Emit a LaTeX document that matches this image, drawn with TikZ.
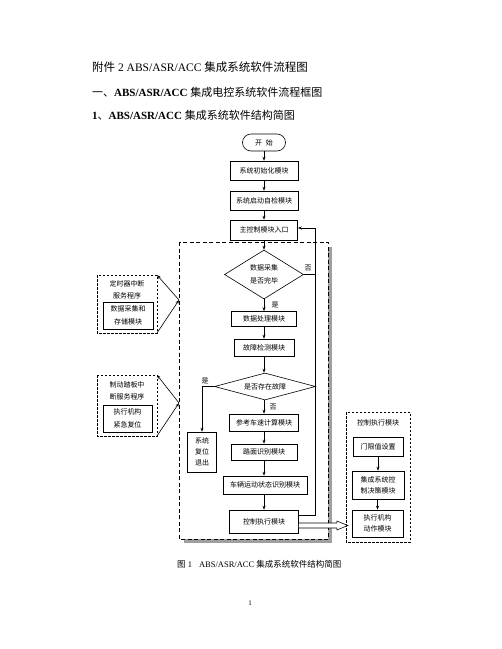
\documentclass[tikz,border=0pt]{standalone}
\usepackage{fontspec}
\setmainfont{Liberation Serif}
\newfontfamily\cjk{Noto Sans CJK SC}
\usetikzlibrary{shapes.geometric,arrows.meta,calc}
\begin{document}
\begin{tikzpicture}[x=1pt,y=-1pt,
  box/.style={draw,line width=0.6pt,inner sep=0pt,font=\cjk\fontsize{7}{11}\selectfont,align=center},
  arr/.style={-{Stealth[length=4pt,width=3pt]},line width=0.6pt},
  ln/.style={line width=0.6pt},
  lab/.style={font=\cjk\fontsize{7}{8}\selectfont,inner sep=0pt},
  dbox/.style={draw,line width=0.7pt,dash pattern=on 2.5pt off 1.5pt},
  bigdbox/.style={draw,line width=0.7pt,dash pattern=on 4pt off 2.5pt},
  dia/.style={draw,diamond,line width=0.6pt,inner sep=0pt,font=\cjk\fontsize{7}{13}\selectfont,align=center}]
\useasboundingbox[fill=white] (0,0) rectangle (502,649);

% headings
\node[anchor=west,inner sep=0pt,font=\fontsize{11.5}{14}\selectfont] (h1) at (92,67) {{\cjk 附件} 2 ABS/ASR/ACC {\cjk 集成系统软件流程图}};
\node[anchor=west,inner sep=0pt,font=\fontsize{11}{14}\selectfont] (h2) at (92,92) {{\cjk 一、}\textbf{ABS/ASR/ACC} {\cjk 集成电控系统软件流程框图}};
\node[anchor=west,inner sep=0pt,font=\fontsize{11}{14}\selectfont] (h3) at (92,115) {\textbf{1}{\cjk 、}\textbf{ABS/ASR/ACC} {\cjk 集成系统软件结构简图}};

% big dashed box with shadow
\fill[gray!75] (184,247) rectangle (332,543);
\draw[bigdbox,fill=white] (179,242) rectangle (328,539);

% main column
\node[box,rounded corners=8.5pt,minimum width=43pt,minimum height=17pt] (start) at (264,142.5) {开\hspace{4pt}始};
\node[box,minimum width=68pt,minimum height=19pt] (init) at (264,170.5) {系统初始化模块};
\node[box,minimum width=68pt,minimum height=19pt] (check) at (264,200.5) {系统启动自检模块};
\node[box,minimum width=67pt,minimum height=20pt] (entry) at (264,230) {主控制模块入口};
\node[dia,aspect=1.61,minimum width=79pt,minimum height=49pt] (d1) at (264,274.5) {数据采集\\是否完毕};
\node[box,minimum width=65pt,minimum height=15pt] (proc) at (264,319) {数据处理模块};
\node[box,minimum width=60pt,minimum height=17pt] (fault) at (264,347.5) {故障检测模块};
\node[dia,aspect=3.74,minimum width=101pt,minimum height=27pt] (d2) at (265,386.5) {是否存在故障};
\node[box,minimum width=69pt,minimum height=17pt] (ref) at (264,422.5) {参考车速计算模块};
\node[box,minimum width=66pt,minimum height=16pt] (road) at (264,452) {路面识别模块};
\node[box,minimum width=84pt,minimum height=18pt] (veh) at (265,485) {车辆运动状态识别模块};
\node[box,minimum width=69pt,minimum height=23pt] (ctrl) at (264,521.5) {控制执行模块};
\node[box,minimum width=29pt,minimum height=40pt] (reset) at (202,452) {系统\\复位\\退出};

\draw[arr] (start) -- (init);
\draw[arr] (init) -- (check);
\draw[arr] (check) -- (entry);
\draw[arr] (entry) -- (d1.north);
\draw[arr] (d1.south) -- (proc);
\draw[arr] (proc) -- (fault);
\draw[arr] (fault) -- (d2.north -| fault.south);
\draw[arr] (d2.south -| ref.north) -- (ref);
\draw[arr] (ref) -- (road);
\draw[arr] (road) -- (veh.north -| road.south);
\draw[arr] (veh.south -| ctrl.north) -- (ctrl);
\draw[arr] (d2.west) -| (reset.north);

% feedback
\coordinate (fbx) at (315,0);
\draw[line width=0.8pt] (d1.east) -- (d1.east -| fbx);
\draw[arr,line width=0.8pt] ($(ctrl.east)+(0,-6.5)$) -| ($(entry.east -| fbx)+(0,-2)$) -- ($(entry.east)+(0,-2)$);

% labels
\node[lab] (l1) at (308,268) {否};
\node[lab] (l2) at (275,305) {是};
\node[lab] (l3) at (205,381) {是};
\node[lab] (l4) at (273,407) {否};

% left interrupt boxes
\draw[dbox] (97,275) rectangle (157,333);
\coordinate (lb1ne) at (157,275);
\coordinate (lb1se) at (157,333);
\node[lab,font=\cjk\fontsize{7}{12}\selectfont,align=center] (t1) at (127,290) {定时器中断\\服务程序};
\node[box,minimum width=50pt,minimum height=27pt,font=\cjk\fontsize{7}{13.5}\selectfont] (ib1) at (128,315.5) {数据采集和\\存储模块};
\coordinate (m1) at (179,300);
\draw[arr] (m1) -- (lb1ne);
\draw[arr] (lb1se) -- (m1);

\draw[dbox] (97,375) rectangle (157,436);
\coordinate (lb2ne) at (157,375);
\coordinate (lb2se) at (157,436);
\node[lab,font=\cjk\fontsize{7}{12}\selectfont,align=center] (t2) at (127,391) {制动踏板中\\断服务程序};
\node[box,minimum width=49pt,minimum height=27pt,font=\cjk\fontsize{7}{13.5}\selectfont] (ib2) at (127.5,418.5) {执行机构\\紧急复位};
\coordinate (m2) at (179,403);
\draw[arr] (m2) -- (lb2ne);
\draw[arr] (lb2se) -- (m2);

% right box
\draw[dbox] (346,412) rectangle (410,542);
\node[lab] (t3) at (378,423) {控制执行模块};
\node[box,minimum width=50pt,minimum height=19pt] (thr) at (378,446.5) {门限值设置};
\node[box,minimum width=52pt,minimum height=28pt] (dec) at (378,485) {集成系统控\\制决策模块};
\node[box,minimum width=51pt,minimum height=27pt] (act) at (377.5,523.5) {执行机构\\动作模块};
\draw[arr] (thr) -- (thr |- dec.north);
\draw[arr] (dec.south -| act.north) -- (act);

% hollow arrow
\draw[line width=0.6pt,fill=white] ($(ctrl.east)+(0,1.5)$) -- ($(ctrl.east)+(38,1.5)$) -- ($(ctrl.east)+(38,-0.5)$) -- ($(ctrl.east)+(49,4)$) -- ($(ctrl.east)+(38,8.5)$) -- ($(ctrl.east)+(38,6.5)$) -- ($(ctrl.east)+(0,6.5)$);

% caption and page number
\node[anchor=west,inner sep=0pt,font=\fontsize{8.5}{10}\selectfont] (cap) at (177,564) {{\cjk 图} 1\hspace{7pt}ABS/ASR/ACC {\cjk 集成系统软件结构简图}};
\node[inner sep=0pt,font=\fontsize{7}{8}\selectfont] (pg) at (250,603) {1};
\end{tikzpicture}
\end{document}
